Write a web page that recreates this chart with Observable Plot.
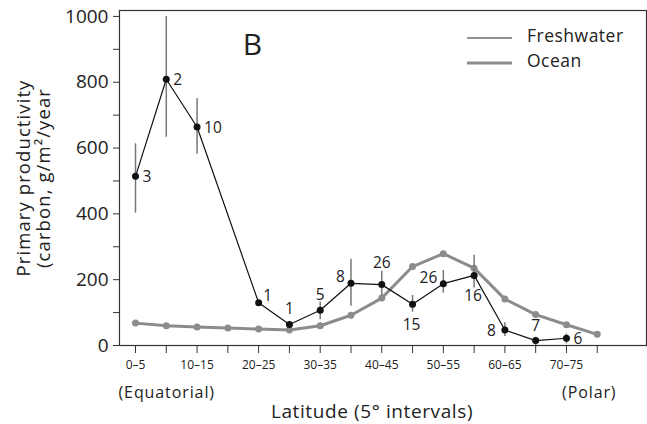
<!DOCTYPE html>
<html>
<head>
<meta charset="utf-8">
<script src="https://cdn.jsdelivr.net/npm/d3@7"></script>
<script src="https://cdn.jsdelivr.net/npm/@observablehq/plot@0.6"></script>
<style>
  html, body { margin: 0; padding: 0; background: #fff; }
  #wrap { position: relative; width: 647px; height: 424px; font-family: "Open Sans", sans-serif; color: #222; }
  #legend { position: absolute; left: 0; top: 0; pointer-events: none; }
</style>
</head>
<body>
<div id="wrap"></div>
<script>
// ---- Data ----
const latIndex = [0,1,2,3,4,5,6,7,8,9,10,11,12,13,14,15];
const tickLabelIndex = [0,2,4,6,8,10,12,14];
const tickLabels = ["0–5","10–15","20–25","30–35","40–45","50–55","60–65","70–75"];

const oceanValues = [68,60,56,53,50,47,60,92,144,240,279,235,141,94,63,34];

const freshIndex = [0,1,2,4,5,6,7,8,9,10,11,12,13,14];
const freshValues = [514,809,664,130,64,107,189,185,125,188,213,47,15,22];
const freshLow    = [402,633,581,null,null,78,119,149,101,159,175,27,0,5];
const freshHigh   = [613,1000,750,null,null,132,262,226,152,228,274,69,25,35];
const freshN      = ["3","2","10","1","1","5","8","26","15","26","16","8","7","6"];
// label placement (layout only)
const labelPlace  = ["right","right","right","upright","above","above","upleft","high","below","upleft","below","left","above","right"];

// ---- Build tables ----
const ocean = latIndex.map((x, i) => ({x, y: oceanValues[i]}));
const fresh = freshIndex.map((x, i) => ({x, y: freshValues[i], lo: freshLow[i], hi: freshHigh[i], n: freshN[i], place: labelPlace[i]}));
const bars = fresh.filter(d => d.lo != null);

const placements = {
  right:   {dx: 7,   dy: 1,   textAnchor: "start"},
  upright: {dx: 9,   dy: -7,  textAnchor: "middle"},
  above:   {dx: 0,   dy: -15, textAnchor: "middle"},
  high:    {dx: 0,   dy: -22, textAnchor: "middle"},
  below:   {dx: -1,  dy: 21,  textAnchor: "middle"},
  upleft:  {dx: -6,  dy: -6,  textAnchor: "end"},
  left:    {dx: -9,  dy: 1,   textAnchor: "end"}
};
const labelMarks = Object.entries(placements).map(([k, p]) =>
  Plot.text(fresh.filter(d => d.place === k), {x: "x", y: "y", text: "n", fontSize: 15.5, fill: "#222", lineAnchor: "middle", ...p})
);

const chart = Plot.plot({
  width: 647,
  height: 424,
  marginLeft: 119,
  marginRight: 1,
  marginTop: 10,
  marginBottom: 79,
  style: {fontFamily: "Open Sans, sans-serif", color: "#222", background: "#fff"},
  x: {domain: [-0.52, 16.6], axis: null},
  y: {domain: [0, 1018], axis: null},
  marks: [
    Plot.frame({stroke: "#333", strokeWidth: 1.2}),
    Plot.axisY({ticks: [0,200,400,600,800,1000], tickFormat: d => String(d), tickSize: 6, tickPadding: 5, fontSize: 19, label: null, stroke: "#333"}),
    Plot.axisY({ticks: [100,300,500,700,900], tickSize: 6, tickFormat: () => "", label: null, stroke: "#333"}),
    Plot.axisX({ticks: latIndex, tickSize: 8, tickFormat: () => "", label: null, stroke: "#333"}),
    Plot.text(tickLabelIndex, {x: d => d, text: (d, i) => tickLabels[i], frameAnchor: "bottom", lineAnchor: "middle", dy: 20, fontSize: 12, fill: "#222"}),
    Plot.text(["(Equatorial)"], {frameAnchor: "bottom-left", textAnchor: "start", lineAnchor: "middle", dx: -1, dy: 47, fontSize: 16, fill: "#222"}),
    Plot.text(["(Polar)"], {frameAnchor: "bottom-right", textAnchor: "end", lineAnchor: "middle", dx: -30, dy: 47, fontSize: 16, fill: "#222"}),
    Plot.text(["Latitude (5° intervals)"], {frameAnchor: "bottom", textAnchor: "middle", lineAnchor: "middle", dx: -11, dy: 66, fontSize: 19, fill: "#222"}),
    Plot.text(["Primary productivity\n(carbon, g/m²/year"], {frameAnchor: "left", textAnchor: "middle", lineAnchor: "middle", rotate: -90, dx: -86, lineHeight: 1.1, fontSize: 18.5, fill: "#222"}),
    Plot.text(["B"], {frameAnchor: "top-left", textAnchor: "middle", lineAnchor: "middle", dx: 133, dy: 35, fontSize: 30, fill: "#222"}),
    Plot.line(ocean, {x: "x", y: "y", stroke: "#8c8c8c", strokeWidth: 3}),
    Plot.dot(ocean, {x: "x", y: "y", r: 3.5, fill: "#8c8c8c"}),
    Plot.ruleX(bars, {x: "x", y1: "lo", y2: "hi", stroke: "#777", strokeWidth: 1.5}),
    Plot.line(fresh, {x: "x", y: "y", stroke: "#111", strokeWidth: 1.2}),
    Plot.dot(fresh, {x: "x", y: "y", r: 3.5, fill: "#111"}),
    ...labelMarks
  ]
});

// widen lettering of annotation texts to match the reference typeface
const spacing = [["Primary", "1.1px"], ["Latitude", "0.6px"], ["(Equatorial)", "0.9px"], ["(Polar)", "0.9px"]];
d3.select(chart).selectAll("text").each(function() {
  const s = this.textContent;
  for (const [k, v] of spacing) if (s.startsWith(k)) this.style.letterSpacing = v;
});

const wrap = document.getElementById("wrap");
wrap.appendChild(chart);

// legend overlay
const legendItems = [
  {name: "Freshwater", color: "#222", width: 1.2},
  {name: "Ocean", color: "#8c8c8c", width: 3}
];
const svgNS = "http://www.w3.org/2000/svg";
const leg = document.createElementNS(svgNS, "svg");
leg.setAttribute("id", "legend");
leg.setAttribute("width", 647);
leg.setAttribute("height", 424);
legendItems.forEach((it, i) => {
  const y = 38 + i * 25;
  const ln = document.createElementNS(svgNS, "line");
  ln.setAttribute("x1", 467); ln.setAttribute("x2", 512);
  ln.setAttribute("y1", y); ln.setAttribute("y2", y);
  ln.setAttribute("stroke", it.color); ln.setAttribute("stroke-width", it.width);
  leg.appendChild(ln);
  const t = document.createElementNS(svgNS, "text");
  t.setAttribute("x", 527); t.setAttribute("y", y - 1);
  t.setAttribute("dominant-baseline", "middle");
  t.setAttribute("font-family", "Open Sans, sans-serif");
  t.setAttribute("font-size", 17.5);
  t.setAttribute("letter-spacing", "0.5px");
  t.setAttribute("fill", "#222");
  t.textContent = it.name;
  leg.appendChild(t);
});
wrap.appendChild(leg);
</script>
</body>
</html>
